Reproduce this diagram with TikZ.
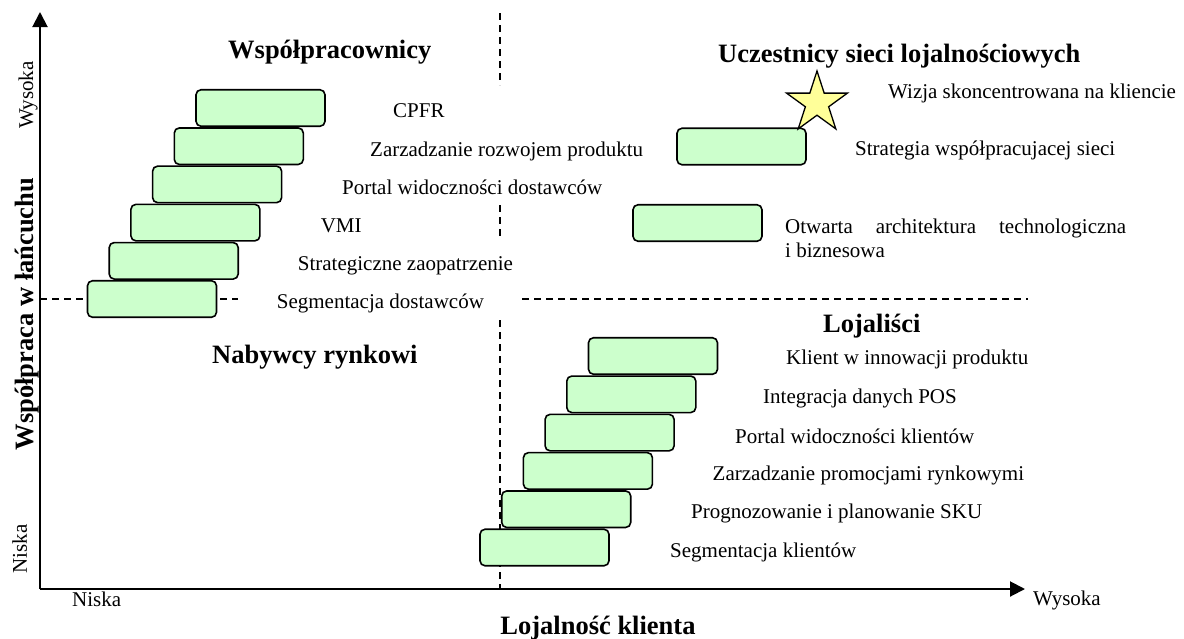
\documentclass[tikz,border=0pt]{standalone}
\usepackage{fontspec}
\setmainfont{Liberation Serif}
\usetikzlibrary{arrows.meta,shapes.geometric}
\definecolor{boxgreen}{HTML}{CCFFCC}
\definecolor{staryellow}{HTML}{FFFF99}
\begin{document}
\begin{tikzpicture}[x=1pt,y=-1pt,
  stepbox/.style={draw=black, line width=1.6pt, fill=boxgreen, rounded corners=5pt,
    minimum width=129pt, minimum height=36.5pt, inner sep=0pt, outer sep=0pt},
  lbl/.style={anchor=base west, inner sep=0pt, font=\fontsize{21}{24}\selectfont},
  ttl/.style={anchor=base west, inner sep=0pt, font=\fontsize{26.5}{30}\selectfont\bfseries},
  axis/.style={line width=2pt, -{Triangle[length=15pt,width=15pt]}},
  guide/.style={line width=1.3pt, dash pattern=on 7pt off 5pt}]
\useasboundingbox (0,0) rectangle (1184,638);
% dashed quadrant guides
\draw[guide] (500,13) -- (500,85);
\draw[guide] (500,205) -- (500,240);
\draw[guide] (500,320) -- (500,589);
\draw[guide] (40,299) -- (238,299);
\draw[guide] (522,299) -- (1028,299);
% axes
\coordinate (O) at (40,589);
\coordinate (ytip) at (40,12);
\coordinate (xtip) at (1025,589);
\draw[axis] (O) -- (ytip);
\draw[axis] (O) -- (xtip);
% top-left boxes
\node[stepbox] (a1) at (260.5,108) {};
\node[stepbox] (a2) at (238.8,146.2) {};
\node[stepbox] (a3) at (217.1,184.4) {};
\node[stepbox] (a4) at (195.4,222.6) {};
\node[stepbox] (a5) at (173.7,260.8) {};
\node[stepbox] (a6) at (152,299) {};
% top-right boxes
\node[stepbox] (b1) at (741.5,146.5) {};
\node[stepbox] (b2) at (697.5,223) {};
% bottom-right boxes
\node[stepbox] (c1) at (653,356) {};
\node[stepbox] (c2) at (631.3,394.3) {};
\node[stepbox] (c3) at (609.6,432.6) {};
\node[stepbox] (c4) at (587.9,470.9) {};
\node[stepbox] (c5) at (566.2,509.2) {};
\node[stepbox] (c6) at (544.5,547.5) {};
% star
\node[star, star points=5, star point ratio=2.618, minimum size=64pt, inner sep=0pt,
  draw=black, line width=1.3pt, fill=staryellow] (star) at (817,103) {};
% titles
\node[ttl] (t1) at (228,58) {Współpracownicy};
\node[ttl] (t2) at (718,62) {Uczestnicy sieci lojalnościowych};
\node[ttl] (t3) at (212,363) {Nabywcy rynkowi};
\node[ttl] (t4) at (823,332) {Lojaliści};
\node[ttl, anchor=base] (xt) at (598,634) {Lojalność klienta};
\node[ttl, anchor=base, rotate=90] (yt) at (33,314) {Współpraca w łańcuchu};
% axis ends
\node[lbl, anchor=base, rotate=90] (yhi) at (33,95) {Wysoka};
\node[lbl, anchor=base, rotate=90] (ylo) at (27,549) {Niska};
\node[lbl] (xlo) at (72,606) {Niska};
\node[lbl] (xhi) at (1033,605) {Wysoka};
% top-left labels
\node[lbl] (la1) at (393,117) {CPFR};
\node[lbl] (la2) at (370,156) {Zarzadzanie rozwojem produktu};
\node[lbl] (la3) at (342,194) {Portal widoczności dostawców};
\node[lbl] (la4) at (320.6,232) {VMI};
\node[lbl] (la5) at (297.7,270.7) {Strategiczne zaopatrzenie};
\node[lbl] (la6) at (276.7,308) {Segmentacja dostawców};
% top-right labels
\node[lbl] (lb0) at (888,98) {Wizja skoncentrowana na kliencie};
\node[lbl] (lb1) at (855,155) {Strategia współpracujacej sieci};
\node[lbl] (lb2) at (785,233) {\makebox[341pt][s]{Otwarta architektura technologiczna}};
\node[lbl] (lb2b) at (785,257) {i biznesowa};
% bottom-right labels
\node[lbl] (lc1) at (786,364) {Klient w innowacji produktu};
\node[lbl] (lc2) at (763,403) {Integracja danych POS};
\node[lbl] (lc3) at (735,443) {Portal widoczności klientów};
\node[lbl] (lc4) at (712.5,480) {Zarzadzanie promocjami rynkowymi};
\node[lbl] (lc5) at (691,518) {Prognozowanie i planowanie SKU};
\node[lbl] (lc6) at (670,557) {Segmentacja klientów};
\end{tikzpicture}
\end{document}
